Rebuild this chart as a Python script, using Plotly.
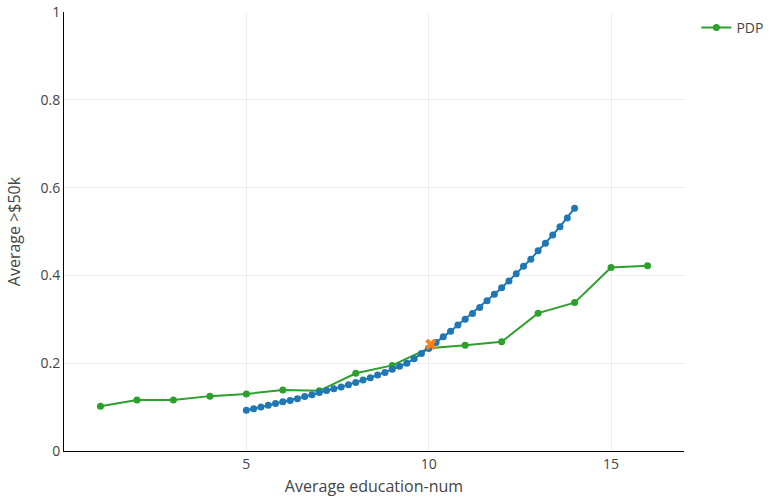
import plotly.graph_objects as go

# PDP (green) series
pdp_x = [1, 2, 3, 4, 5, 6, 7, 8, 9, 10, 11, 12, 13, 14, 15, 16]
pdp_y = [0.102, 0.116, 0.116, 0.125, 0.130, 0.139, 0.137, 0.177, 0.195, 0.234,
         0.241, 0.249, 0.314, 0.338, 0.418, 0.422]

# ICE-like fitted curve (blue) series
curve_x = [5.0, 5.2, 5.4, 5.6, 5.8, 6.0, 6.2, 6.4, 6.6, 6.8, 7.0, 7.2, 7.4, 7.6, 7.8,
           8.0, 8.2, 8.4, 8.6, 8.8, 9.0, 9.2, 9.4, 9.6, 9.8, 10.0, 10.2, 10.4, 10.6,
           10.8, 11.0, 11.2, 11.4, 11.6, 11.8, 12.0, 12.2, 12.4, 12.6, 12.8, 13.0,
           13.2, 13.4, 13.6, 13.8, 14.0]
curve_y = [0.093, 0.096, 0.100, 0.104, 0.108, 0.112, 0.115, 0.119, 0.124, 0.128,
           0.133, 0.138, 0.142, 0.146, 0.151, 0.156, 0.162, 0.167, 0.173, 0.179,
           0.186, 0.193, 0.200, 0.210, 0.222, 0.234, 0.247, 0.260, 0.273, 0.287,
           0.300, 0.313, 0.327, 0.342, 0.357, 0.372, 0.387, 0.404, 0.421, 0.437,
           0.456, 0.473, 0.492, 0.511, 0.531, 0.553]

# Average point (orange x)
avg_x = [10.06]
avg_y = [0.243]

x_ticks = [5, 10, 15]
y_ticks = [0, 0.2, 0.4, 0.6, 0.8, 1]
y_tick_text = ["0", "0.2", "0.4", "0.6", "0.8", "1"]

fig = go.Figure()
fig.add_trace(go.Scatter(
    x=pdp_x, y=pdp_y, mode="lines+markers", name="PDP",
    line=dict(color="#2ca02c", width=2),
    marker=dict(color="#2ca02c", size=7),
))
fig.add_trace(go.Scatter(
    x=curve_x, y=curve_y, mode="lines+markers", showlegend=False,
    line=dict(color="#1f77b4", width=2),
    marker=dict(color="#1f77b4", size=7),
))
fig.add_trace(go.Scatter(
    x=avg_x, y=avg_y, mode="markers", showlegend=False,
    marker=dict(color="#ff7f0e", size=10, symbol="x"),
))

fig.update_layout(
    width=772, height=497,
    margin=dict(l=64, r=88, t=12, b=46, autoexpand=False),
    plot_bgcolor="white", paper_bgcolor="white",
    font=dict(family="Open Sans, sans-serif", color="#444", size=14),
    legend=dict(x=1.02, y=1, font=dict(size=14)),
    xaxis=dict(
        title=dict(text="Average education-num", font=dict(size=16), standoff=10),
        range=[0, 17], tickvals=x_ticks, showgrid=True, gridcolor="#eee",
        showline=True, linecolor="black", linewidth=1, zeroline=False,
        ticks="", automargin=False, tickfont=dict(size=14),
    ),
    yaxis=dict(
        title=dict(text="Average >$50k", font=dict(size=16)),
        range=[0, 1], tickvals=y_ticks, ticktext=y_tick_text,
        showgrid=True, gridcolor="#eee",
        showline=True, linecolor="black", linewidth=1, zeroline=False,
        ticks="", automargin=False, tickfont=dict(size=14),
    ),
)

fig.write_html("out.html", config={"displayModeBar": False},
               post_script="document.body.style.margin='0';")
